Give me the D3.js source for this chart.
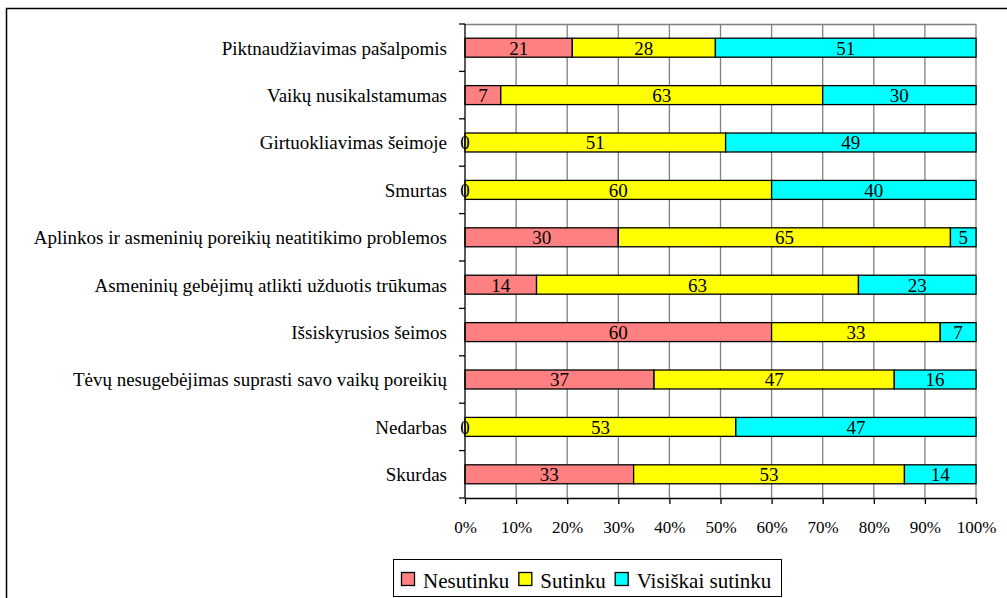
<!DOCTYPE html>
<html>
<head>
<meta charset="utf-8">
<script src="https://d3js.org/d3.v7.min.js"></script>
<style>
  html, body { margin: 0; padding: 0; background: #fff; }
</style>
</head>
<body>
<div id="chart"></div>
<script>
// categories, top to bottom
var categories = [
  "Piktnaudžiavimas pašalpomis",
  "Vaikų nusikalstamumas",
  "Girtuokliavimas šeimoje",
  "Smurtas",
  "Aplinkos ir asmeninių poreikių neatitikimo problemos",
  "Asmeninių gebėjimų atlikti užduotis trūkumas",
  "Išsiskyrusios šeimos",
  "Tėvų nesugebėjimas suprasti savo vaikų poreikių",
  "Nedarbas",
  "Skurdas"
];
var seriesNames = ["Nesutinku", "Sutinku", "Visiškai sutinku"];
var nesutinku = [21, 7, 0, 0, 30, 14, 60, 37, 0, 33];
var sutinku = [28, 63, 51, 60, 65, 63, 33, 47, 53, 53];
var visiskai = [51, 30, 49, 40, 5, 23, 7, 16, 47, 14];
var xTicks = [0, 0.1, 0.2, 0.3, 0.4, 0.5, 0.6, 0.7, 0.8, 0.9, 1];

var colors = ["#FF8080", "#FFFF00", "#00FFFF"];
var FONT = "'Liberation Serif', 'Times New Roman', serif";

var width = 1007, height = 598;
var plot = {left: 465, right: 976, top: 24, bottom: 498};

var svg = d3.select("#chart").append("svg")
  .attr("width", width)
  .attr("height", height)
  .style("font-family", FONT);

// outer frame
svg.append("rect")
  .attr("x", 6.5).attr("y", 8.5)
  .attr("width", 1010).attr("height", 600)
  .attr("fill", "none")
  .attr("stroke", "#000")
  .attr("stroke-width", 1.5);

var x = d3.scaleLinear().domain([0, 1]).range([plot.left, plot.right]);
var y = d3.scaleBand().domain(categories).range([plot.top, plot.bottom]).paddingInner(0.6).paddingOuter(0.3);
var yEdges = d3.scaleLinear().domain([0, categories.length]).range([plot.top, plot.bottom]);

// gridlines
svg.append("g")
  .selectAll("line")
  .data(xTicks.slice(1))
  .join("line")
  .attr("x1", function(d) { return x(d); })
  .attr("x2", function(d) { return x(d); })
  .attr("y1", plot.top)
  .attr("y2", plot.bottom)
  .attr("stroke", "#808080")
  .attr("stroke-width", 1.3);

svg.append("line")
  .attr("x1", plot.left).attr("x2", plot.right)
  .attr("y1", plot.top + 0.5).attr("y2", plot.top + 0.5)
  .attr("stroke", "#808080")
  .attr("stroke-width", 1.3);

// stacked data
var rows = categories.map(function(c, i) {
  return {cat: c, values: [nesutinku[i], sutinku[i], visiskai[i]]};
});
var stack = d3.stack().keys([0, 1, 2]).value(function(d, k) { return d.values[k] / 100; });
var layers = stack(rows);

var groups = svg.append("g").selectAll("g")
  .data(layers)
  .join("g")
  .attr("fill", function(d, i) { return colors[i]; });

groups.selectAll("rect")
  .data(function(d) { return d; })
  .join("rect")
  .attr("x", function(d) { return x(d[0]); })
  .attr("width", function(d) { return x(d[1]) - x(d[0]); })
  .attr("y", function(d) { return y(d.data.cat); })
  .attr("height", y.bandwidth())
  .attr("stroke", "#000")
  .attr("stroke-width", 1.3);

// value labels
layers.forEach(function(layer, k) {
  svg.append("g").selectAll("text")
    .data(layer)
    .join("text")
    .attr("x", function(d) { return (x(d[0]) + x(d[1])) / 2; })
    .attr("y", function(d) { return y(d.data.cat) + y.bandwidth() / 2; })
    .attr("dy", "0.36em")
    .attr("text-anchor", "middle")
    .style("font-size", "19px")
    .text(function(d) { return d.data.values[k]; });
});

// y axis
svg.append("line")
  .attr("x1", plot.left).attr("x2", plot.left)
  .attr("y1", plot.top).attr("y2", plot.bottom)
  .attr("stroke", "#000").attr("stroke-width", 1.3);

svg.append("g").selectAll("line")
  .data(d3.range(categories.length + 1))
  .join("line")
  .attr("x1", plot.left - 6).attr("x2", plot.left)
  .attr("y1", function(d) { return yEdges(d); })
  .attr("y2", function(d) { return yEdges(d); })
  .attr("stroke", "#000").attr("stroke-width", 1.3);

svg.append("g").selectAll("text")
  .data(categories)
  .join("text")
  .attr("x", plot.left - 18)
  .attr("y", function(d) { return y(d) + y.bandwidth() / 2; })
  .attr("dy", "0.36em")
  .attr("text-anchor", "end")
  .style("font-size", "19px")
  .text(function(d) { return d; });

// x axis
var xAxis = d3.axisBottom(x)
  .tickValues(xTicks)
  .tickSize(6)
  .tickFormat(d3.format(".0%"));

var gx = svg.append("g")
  .attr("transform", "translate(0," + plot.bottom + ")")
  .call(xAxis)
  .attr("font-family", null)
  .attr("font-size", null);
gx.select(".domain").attr("stroke", "#000").attr("stroke-width", 1.3).attr("d", "M" + plot.left + ",0.5H" + plot.right);
gx.selectAll(".tick line").attr("stroke", "#000").attr("stroke-width", 1.3);
gx.selectAll(".tick text")
  .attr("y", 23)
  .attr("fill", "#000")
  .style("font-size", "17px");

// legend
var legend = svg.append("g");
legend.append("rect")
  .attr("x", 393.5).attr("y", 559.5)
  .attr("width", 388).attr("height", 37)
  .attr("fill", "#fff")
  .attr("stroke", "#000")
  .attr("stroke-width", 1);

var lx = 401;
seriesNames.forEach(function(name, i) {
  legend.append("rect")
    .attr("x", lx + 0.5).attr("y", 572.5)
    .attr("width", 13).attr("height", 13)
    .attr("fill", colors[i])
    .attr("stroke", "#000")
    .attr("stroke-width", 1.3);
  var t = legend.append("text")
    .attr("x", lx + 22)
    .attr("y", 588)
    .style("font-size", "21px")
    .text(name);
  lx += 22 + t.node().getComputedTextLength() + 9;
});
</script>
</body>
</html>
